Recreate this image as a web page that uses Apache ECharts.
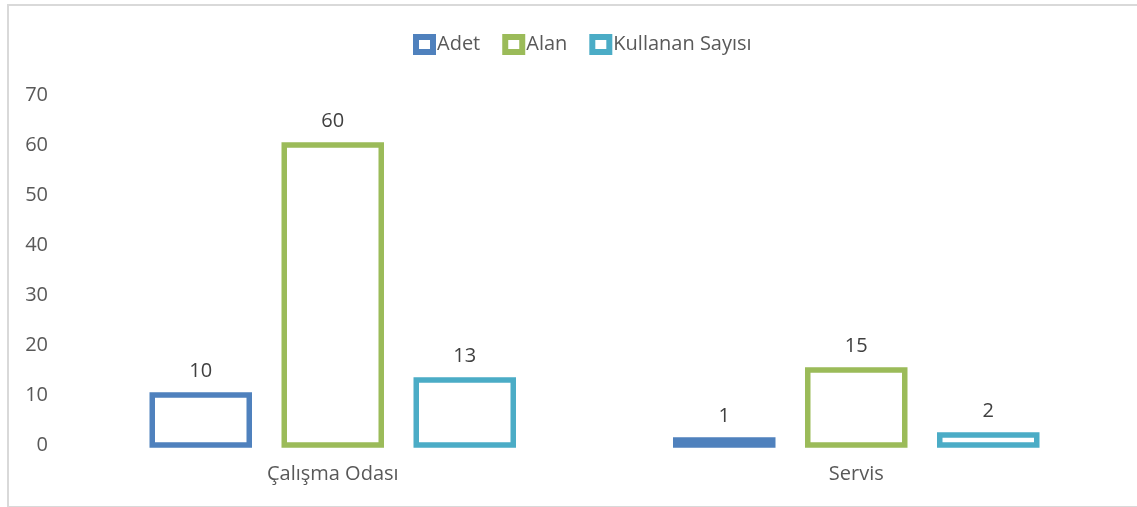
<!DOCTYPE html>
<html>
<head>
<meta charset="utf-8">
<script src="https://cdn.jsdelivr.net/npm/echarts@6/dist/echarts.min.js"></script>
<style>
html, body { margin: 0; padding: 0; background: #fff; }
.frame {
  position: absolute;
  left: 7px;
  top: 4px;
  width: 1140px;
  height: 500px;
  border: 2px solid #d9d9d9;
  border-right: none;
}
#chart { position: absolute; left: 0; top: 0; width: 1137px; height: 507px; }
</style>
</head>
<body>
<div class="frame"></div>
<div id="chart"></div>
<script>
// kategoriler ve seriler
var categories = ['Çalışma Odası', 'Servis']
var seriesNames = ['Adet', 'Alan', 'Kullanan Sayısı']
var adet = [10, 1]
var alan = [60, 15]
var kullananSayisi = [13, 2]
var yTicks = [0, 10, 20, 30, 40, 50, 60, 70]

var colors = ['#4f81bd', '#9bbb59', '#4bacc6']
var fontName = 'Open Sans'
var textColor = '#595959'
var barW = 97
var barStep = 132

function makeSeries(idx, values) {
  return {
    name: seriesNames[idx],
    type: 'custom',
    encode: { x: 0, y: 1 },
    data: values.map(function (v, i) { return [i, v] }),
    itemStyle: { color: '#ffffff', borderColor: colors[idx], borderWidth: 5 },
    renderItem: function (params, api) {
      var ci = api.value(0)
      var val = api.value(1)
      var base = api.coord([ci, 0])
      var top = api.coord([ci, val])
      var cx = base[0] + (idx - 1) * barStep
      return {
        type: 'group',
        children: [{
          type: 'rect',
          shape: { x: cx - barW / 2, y: top[1], width: barW, height: base[1] - top[1] },
          style: { fill: '#ffffff', stroke: colors[idx], lineWidth: 5.5 }
        }, {
          type: 'text',
          style: {
            text: String(val),
            x: cx,
            y: top[1] - 24,
            textAlign: 'center',
            textVerticalAlign: 'middle',
            fill: '#404040',
            font: '20px "' + fontName + '"'
          }
        }]
      }
    }
  }
}

var chart = echarts.init(document.getElementById('chart'))
chart.setOption({
  animation: false,
  legend: {
    top: 29,
    left: 408,
    itemWidth: 17,
    itemHeight: 15,
    itemGap: 22,
    icon: 'rect',
    textStyle: {
      color: textColor,
      fontSize: 20,
      fontFamily: fontName,
      padding: [0, 0, 0, -1]
    },
    data: seriesNames.map(function (n, i) {
      return { name: n, itemStyle: { color: '#ffffff', borderColor: colors[i], borderWidth: 6 } }
    })
  },
  grid: {
    left: 71,
    right: 19,
    top: 95,
    bottom: 62
  },
  xAxis: {
    type: 'category',
    data: categories,
    axisLine: { show: false },
    axisTick: { show: false },
    axisLabel: {
      color: textColor,
      fontSize: 20,
      fontFamily: fontName,
      margin: 19
    }
  },
  yAxis: {
    type: 'value',
    min: yTicks[0],
    max: yTicks[yTicks.length - 1],
    interval: 10,
    splitLine: { show: false },
    axisLine: { show: false },
    axisTick: { show: false },
    axisLabel: {
      color: textColor,
      fontSize: 20,
      fontFamily: fontName,
      margin: 23
    }
  },
  series: [
    makeSeries(0, adet),
    makeSeries(1, alan),
    makeSeries(2, kullananSayisi)
  ]
})
</script>
</body>
</html>
